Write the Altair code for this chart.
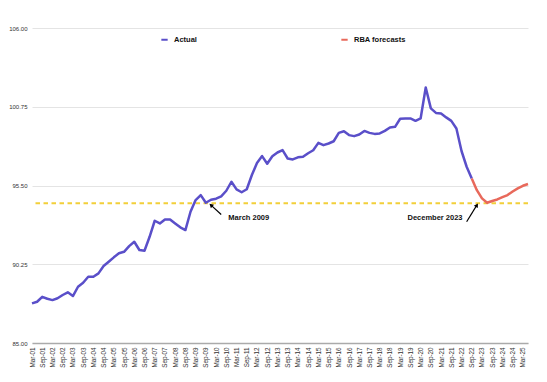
import altair as alt
import pandas as pd

# ---- data ----
years = [f"{y:02d}" for y in range(1, 26)]
months = ["Mar", "Jun", "Sep", "Dec"]
quarters = [f"{m}-{y}" for y in years for m in months][:98]  # Mar-01 .. Jun-25
tick_labels = [q for q in quarters if q.startswith("Mar") or q.startswith("Sep")]

actual = [87.64, 87.75, 88.08, 87.95, 87.86, 87.98, 88.2, 88.38, 88.13, 88.75,
          89.02, 89.42, 89.42, 89.64, 90.13, 90.42, 90.71, 90.98, 91.08, 91.46,
          91.75, 91.20, 91.15, 92.08, 93.15, 92.97, 93.24, 93.24, 92.97, 92.71,
          92.53, 93.75, 94.53, 94.86, 94.35, 94.55, 94.62, 94.78, 95.15, 95.75,
          95.24, 95.05, 95.25, 96.2, 97.0, 97.46, 96.95, 97.45, 97.7, 97.86,
          97.30, 97.24, 97.38, 97.41, 97.65, 97.85, 98.34, 98.19, 98.30, 98.45,
          99.01, 99.12, 98.86, 98.79, 98.90, 99.14, 99.01, 98.94, 98.97, 99.14,
          99.37, 99.41, 99.95, 99.97, 99.97, 99.81, 99.97, 102.03, 100.64, 100.34,
          100.30, 100.04, 99.81, 99.30, 97.8, 96.75, 95.97]
forecast = [95.97, 95.19, 94.64, 94.35, 94.47, 94.57, 94.72, 94.86, 95.1, 95.31,
            95.48, 95.6]
forecast_start = 86

threshold = 94.32

ann_text = ["March 2009", "December 2023"]
ann_q = ["Sep-10", "Mar-22"]
ann_val = [93.33, 93.33]
ann_align = ["left", "right"]

arrow_head_q = ["Dec-09", "Dec-22"]
arrow_head_v = [94.19, 94.19]
arrow_tail_q = ["Jun-10", "Jun-22"]
arrow_tail_v = [93.57, 93.08]
arrow_angle = [312, 32]

# ---- tables ----
rows = []
for i, v in enumerate(actual):
    rows.append({"q": quarters[i], "v": v, "series": "Actual"})
for j, v in enumerate(forecast):
    rows.append({"q": quarters[forecast_start + j], "v": v, "series": "RBA forecasts"})
df = pd.DataFrame(rows)

arrows = pd.DataFrame({"q": arrow_tail_q, "v": arrow_tail_v,
                       "q2": arrow_head_q, "v2": arrow_head_v, "angle": arrow_angle})
anns = pd.DataFrame({"q": ann_q, "v": ann_val, "text": ann_text, "align": ann_align})

FONT = "Liberation Sans"
BLUE = "#5a4fc9"
RED = "#e8695b"

xscale = alt.Scale(type="point", domain=quarters, padding=0)
yscale = alt.Scale(domain=[85, 106], nice=False, zero=False)

xaxis = alt.Axis(values=tick_labels, labelAngle=270, labelFontSize=6.3, labelFont=FONT,
                 labelColor="#333", ticks=False, domainColor="#aaaaaa", domainWidth=1.5,
                 labelPadding=4, grid=False, title=None, labelOverlap=False)
yaxis = alt.Axis(values=[85, 90.25, 95.5, 100.75, 106], format=".2f", labelFontSize=6,
                 labelFont=FONT, labelColor="#333", ticks=False, domain=False,
                 gridColor="#e4e4e4", labelPadding=5, title=None)

lines = alt.Chart(df).mark_line(strokeWidth=2.5, strokeJoin="round").encode(
    x=alt.X("q:O", scale=xscale, axis=xaxis, sort=quarters),
    y=alt.Y("v:Q", scale=yscale, axis=yaxis),
    color=alt.Color("series:N",
                    scale=alt.Scale(domain=["Actual", "RBA forecasts"], range=[BLUE, RED]),
                    legend=alt.Legend(orient="none", legendX=128, legendY=7,
                                      direction="horizontal", title=None,
                                      symbolType="stroke", symbolStrokeWidth=2,
                                      symbolSize=40, labelFont=FONT, labelFontSize=7.5,
                                      labelFontWeight="bold", labelColor="#111",
                                      columnPadding=140, labelOffset=5)),
)

rule = alt.Chart(pd.DataFrame({"v": [threshold]})).mark_rule(
    color="#f2cf3a", strokeWidth=2, strokeDash=[4.5, 3.5]
).encode(y=alt.Y("v:Q", scale=yscale))

arrow_lines = alt.Chart(arrows).mark_rule(color="black", strokeWidth=1.2).encode(
    x=alt.X("q:O", scale=xscale, sort=quarters), x2="q2",
    y=alt.Y("v:Q", scale=yscale), y2="v2",
)
arrow_heads = alt.Chart(arrows).mark_point(shape="triangle-up", filled=True, color="black",
                                           size=22, opacity=1).encode(
    x=alt.X("q2:O", scale=xscale, sort=quarters),
    y=alt.Y("v2:Q", scale=yscale),
    angle=alt.Angle("angle:Q", scale=None),
)

text_left = alt.Chart(anns[anns["align"] == "left"]).mark_text(
    align="left", baseline="middle", font=FONT, fontSize=7.5, fontWeight="bold", dx=2,
    color="#111").encode(
    x=alt.X("q:O", scale=xscale, sort=quarters), y=alt.Y("v:Q", scale=yscale), text="text")
text_right = alt.Chart(anns[anns["align"] == "right"]).mark_text(
    align="right", baseline="middle", font=FONT, fontSize=7.5, fontWeight="bold", dx=1,
    color="#111").encode(
    x=alt.X("q:O", scale=xscale, sort=quarters), y=alt.Y("v:Q", scale=yscale), text="text")

chart = alt.layer(rule, lines, arrow_lines, arrow_heads, text_left, text_right).properties(
    width=496, height=315,
    autosize=alt.AutoSizeParams(type="none"),
    padding={"left": 24, "top": 20, "right": 11, "bottom": 30},
    background="white",
).configure_view(stroke=None)

chart.save("out.html", embed_options={"renderer": "svg", "actions": False})
